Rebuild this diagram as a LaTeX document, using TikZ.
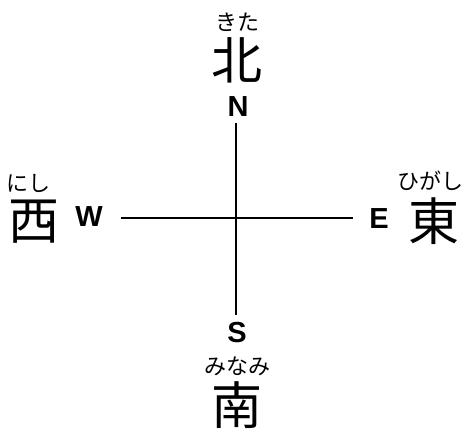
\documentclass[tikz,border=0pt]{standalone}
\usepackage{fontspec}
\setsansfont{Liberation Sans}
\newfontfamily\cjk{Noto Sans CJK JP}
\begin{document}
\begin{tikzpicture}[x=1pt,y=-1pt,
  kanji/.style={font=\cjk\fontsize{51}{51}\selectfont, inner sep=0pt},
  kana/.style={font=\cjk\fontsize{22}{22}\selectfont, inner sep=0pt},
  dir/.style={font=\sffamily\bfseries\fontsize{29}{29}\selectfont, inner sep=0pt},
  axis/.style={line width=1.8pt}]
\useasboundingbox (0,0) rectangle (472,430);
\node[kana] (kita) at (237,22) {きた};
\node[kanji] (kitaK) at (237,60) {北};
\node[dir] (N) at (238,107) {N};
\node[kana] (nishi) at (28,183) {にし};
\node[kanji] (nishiK) at (34,222) {西};
\node[dir] (W) at (89,217) {W};
\node[dir] (E) at (379,219) {E};
\node[kana] (higashi) at (430,181) {ひがし};
\node[kanji] (higashiK) at (434,221) {東};
\node[dir] (S) at (237,333) {S};
\node[kana] (minami) at (237,366) {みなみ};
\node[kanji] (minamiK) at (237,405) {南};
\coordinate (top) at (236,123);
\coordinate (bot) at (236,315);
\coordinate (lft) at (121,218);
\coordinate (rgt) at (353,218);
\draw[axis] (top) -- (bot);
\draw[axis] (lft) -- (rgt);
\end{tikzpicture}
\end{document}
